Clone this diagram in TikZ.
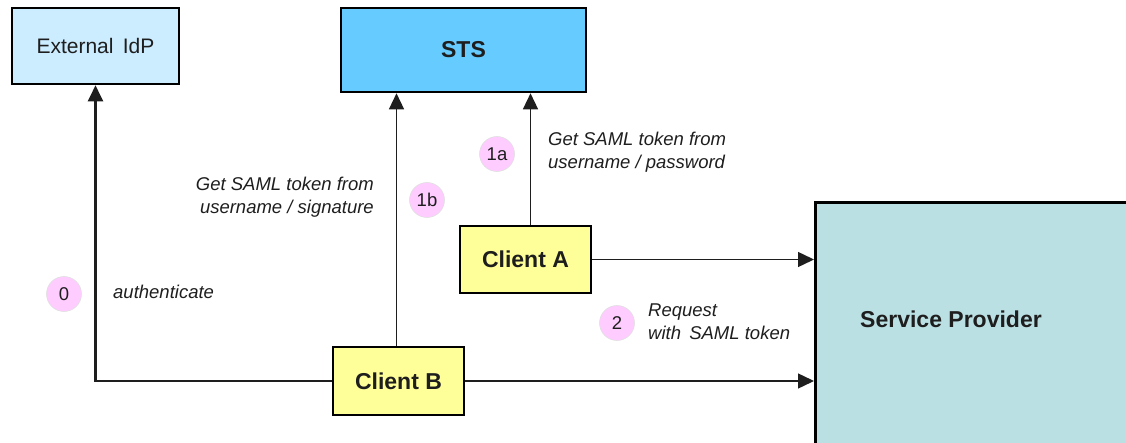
\documentclass[tikz,border=0pt]{standalone}
\usepackage{fontspec}
\setmainfont{Liberation Sans}
\usetikzlibrary{arrows.meta,calc}

\definecolor{idpblue}{HTML}{CCECFF}
\definecolor{stsblue}{HTML}{66CCFF}
\definecolor{clientyellow}{HTML}{FFFF99}
\definecolor{spcyan}{HTML}{BBE0E3}
\definecolor{steppink}{HTML}{FFCCFF}
\definecolor{inkgray}{HTML}{1E1E1E}

\tikzset{
  box/.style={draw=black, line width=2.6pt, inner sep=0pt, text=inkgray},
  idpbox/.style={box, fill=idpblue, minimum width=167pt, minimum height=76pt,
    font=\fontsize{21}{24}\selectfont},
  stsbox/.style={box, fill=stsblue, minimum width=245pt, minimum height=84pt,
    font=\bfseries\fontsize{23}{26}\selectfont},
  clientbox/.style={box, fill=clientyellow, minimum width=131pt, minimum height=67pt,
    font=\bfseries\fontsize{23}{26}\selectfont},
  spbox/.style={box, fill=spcyan},
  flow/.style={draw=inkgray, line width=1.4pt, -{Triangle[length=16pt,width=15pt]}},
  authflow/.style={flow, line width=2.2pt},
  stepmark/.style={circle, fill=steppink, draw=black!12, line width=0.6pt,
    minimum size=35pt, inner sep=0pt, text=inkgray,
    font=\fontsize{18.5}{22}\selectfont},
  note/.style={text=inkgray, inner sep=0pt,
    font=\itshape\fontsize{18.5}{23}\selectfont},
}

\begin{document}
\begin{tikzpicture}[x=1pt, y=-1pt]
  \useasboundingbox (0,0) rectangle (1126,443);

  % parties
  \node[idpbox] (idp) at (95.5,46) {External\ \,IdP};
  \node[stsbox] (sts) at (463.5,50) {STS};
  \node[clientbox] (ca) at (525.5,259.5) {Client A};
  \node[clientbox, minimum height=68pt] (cb) at (398.5,381) {Client B};
  \node[spbox, anchor=north west, minimum width=340pt, minimum height=270pt]
    (sp) at (814,201) {};
  \node[text=inkgray, font=\bfseries\fontsize{23}{26}\selectfont]
    (splabel) at (951,319) {Service Provider};

  % step 0: authentication at the external IdP
  \draw[authflow] (cb.west) -| (idp.south);

  % steps 1a / 1b: token requests to the STS
  \draw[flow] ([xshift=5pt]ca.north) -- ([xshift=5pt]ca.north |- sts.south);
  \draw[flow] ([xshift=-2pt]cb.north) -- ([xshift=-2pt]cb.north |- sts.south);

  % step 2: requests to the service provider
  \draw[flow] (ca.east) -- (ca.east -| sp.west);
  \draw[flow] (cb.east) -- (cb.east -| sp.west);

  % step markers
  \node[stepmark] (s0) at (64,294) {0};
  \node[stepmark] (s1a) at (497,154) {1a};
  \node[stepmark] (s1b) at (427,200) {1b};
  \node[stepmark] (s2) at (617,323) {2};

  % labels
  \node[note, anchor=west] (l0) at (113,292) {authenticate};
  \node[note, anchor=west, align=left] (l1a) at (548,152)
    {Get SAML token from\\username / password};
  \node[note, anchor=east, align=right] (l1b) at (374,197)
    {Get SAML token from\\username / signature};
  \node[note, anchor=west, align=left] (l2) at (648,322)
    {Request\\with\ \,SAML token};
\end{tikzpicture}
\end{document}
